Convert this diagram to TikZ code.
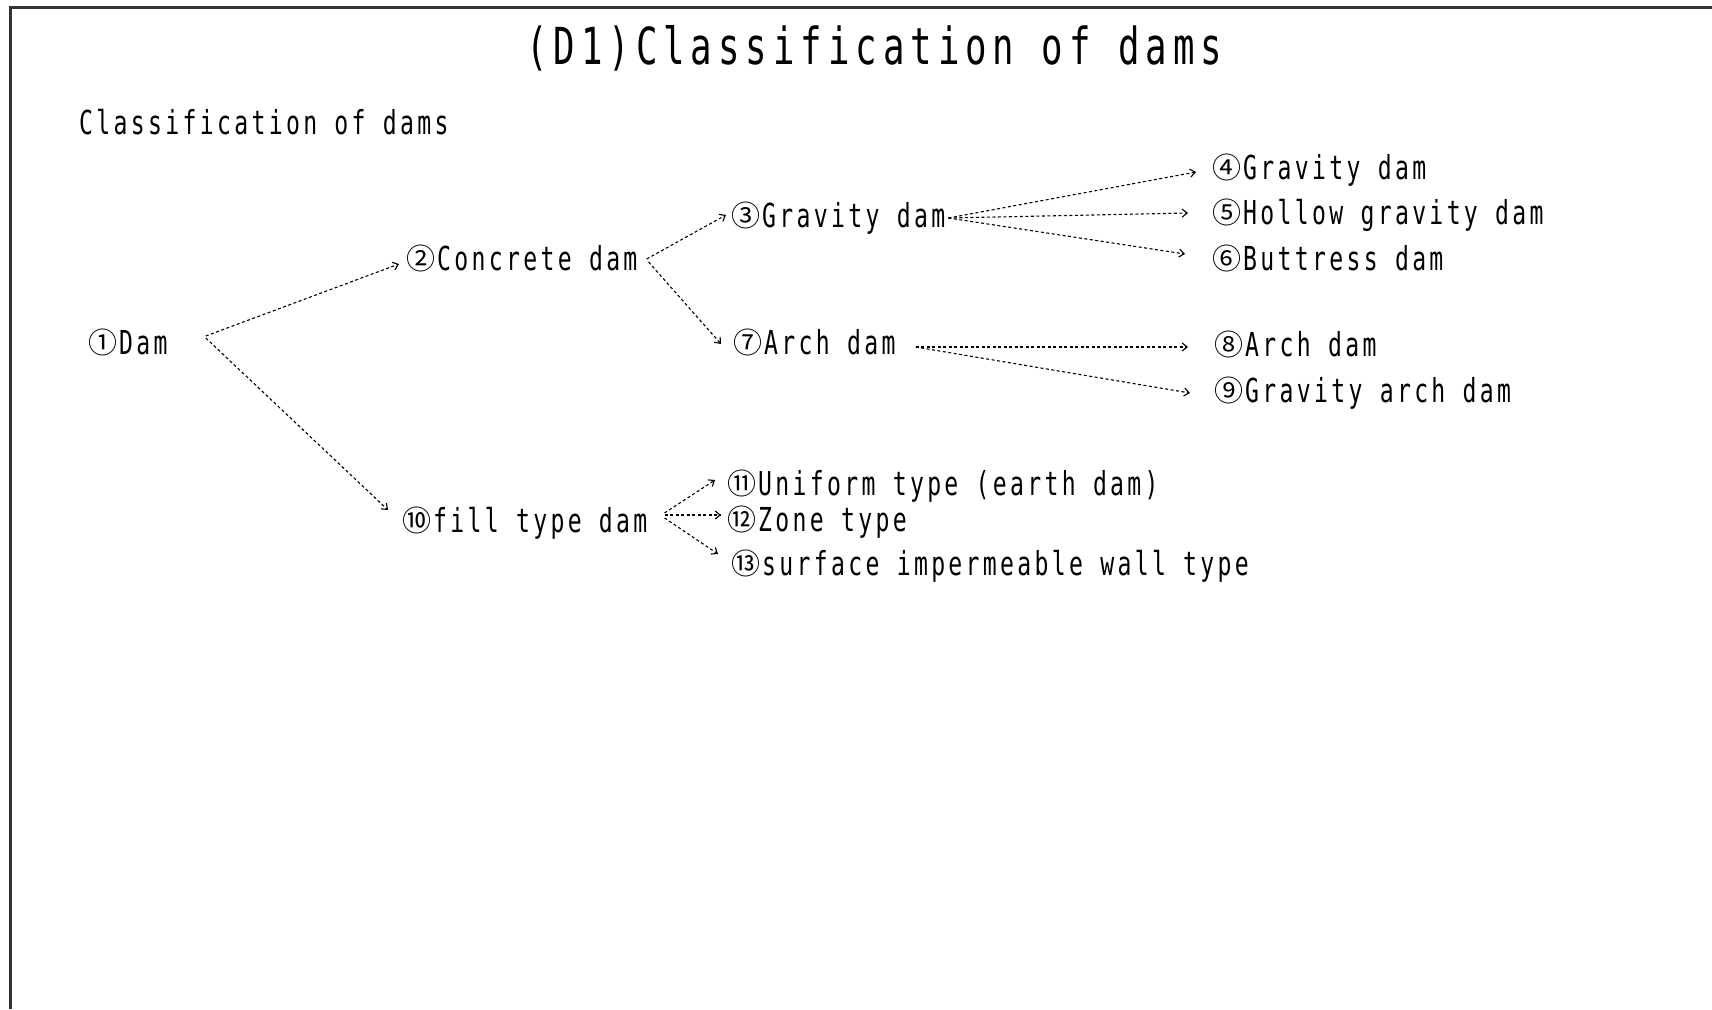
\documentclass[tikz,border=0pt]{standalone}
\usepackage{fontspec}
\usetikzlibrary{arrows.meta}
\newfontfamily\itemfont[FakeStretch=0.7,LetterSpace=10.1]{DejaVu Sans Mono}
\newfontfamily\titlefont[FakeStretch=0.7,LetterSpace=11.7]{DejaVu Sans Mono}
\newfontfamily\cjkfont{Noto Sans CJK JP}
\newcommand{\cnum}[1]{\makebox[33pt][c]{\raisebox{0.5pt}{\cjkfont\fontsize{29}{29}\selectfont #1}}}
\tikzset{
  item/.style={anchor=west,inner sep=0pt,text height=24pt,text depth=0pt,font={\itemfont\fontsize{33}{36}\selectfont}},
  titlenode/.style={anchor=west,inner sep=0pt,text height=37pt,text depth=0pt,font={\titlefont\fontsize{51}{56}\selectfont}},
  link/.style={draw=black,line width=1.1pt,dash pattern=on 3pt off 2.5pt,-{Straight Barb[length=5pt,width=8pt]}},
  frameline/.style={draw=black!80,line width=3pt}
}
\begin{document}
\begin{tikzpicture}[x=1pt,y=-1pt]
\useasboundingbox (0,0) rectangle (1712,1009);
\draw[frameline] (10,1009) -- (10,7) -- (1712,7);
\node[titlenode] (title) at (526,46) {(D1)Classification of dams};
\node[item] (sub) at (79,122) {Classification of dams};
\node[item] (n1) at (86,342) {\cnum{①}Dam};
\node[item] (n2) at (404,258) {\cnum{②}Concrete dam};
\node[item] (n3) at (729,215) {\cnum{③}Gravity dam};
\node[item] (n4) at (1210,167) {\cnum{④}Gravity dam};
\node[item] (n5) at (1210,212) {\cnum{⑤}Hollow gravity dam};
\node[item] (n6) at (1210,258) {\cnum{⑥}Buttress dam};
\node[item] (n7) at (731,342) {\cnum{⑦}Arch dam};
\node[item] (n8) at (1212,344) {\cnum{⑧}Arch dam};
\node[item] (n9) at (1212,390) {\cnum{⑨}Gravity arch dam};
\node[item] (n10) at (400,520) {\cnum{⑩}fill type dam};
\node[item] (n11) at (725,483) {\cnum{⑪}Uniform type (earth dam)};
\node[item] (n12) at (725,519) {\cnum{⑫}Zone type};
\node[item] (n13) at (729,563) {\cnum{⑬}surface impermeable wall type};
\draw[link] ([xshift=38pt,yshift=6pt]n1.east) -- ([xshift=-5pt,yshift=-6pt]n2.west);
\draw[link] ([xshift=38pt,yshift=4pt]n1.east) -- ([xshift=-12pt,yshift=10pt]n10.west);
\draw[link] ([xshift=9pt,yshift=-1pt]n2.east) -- ([xshift=-3pt]n3.west);
\draw[link] ([xshift=11pt,yshift=-4pt]n2.east) -- ([xshift=-10pt,yshift=-2pt]n7.west);
\draw[link] ([xshift=3pt,yshift=-3pt]n3.east) -- ([xshift=-14pt,yshift=-5pt]n4.west);
\draw[link] ([xshift=3pt,yshift=-3pt]n3.east) -- ([xshift=-22pt,yshift=-1pt]n5.west);
\draw[link] ([xshift=3pt,yshift=-3pt]n3.east) -- ([xshift=-25pt,yshift=4pt]n6.west);
\draw[link] ([xshift=20pt,yshift=-5pt]n7.east) -- ([xshift=-24pt,yshift=-3pt]n8.west);
\draw[link] ([xshift=20pt,yshift=-5pt]n7.east) -- ([xshift=-22pt,yshift=-3pt]n9.west);
\draw[link] ([xshift=17pt,yshift=7pt]n10.east) -- ([xshift=-10pt,yshift=3pt]n11.west);
\draw[link] ([xshift=17pt,yshift=5pt]n10.east) -- ([xshift=-4pt,yshift=4pt]n12.west);
\draw[link] ([xshift=17pt,yshift=2pt]n10.east) -- ([xshift=-11pt,yshift=9pt]n13.west);
\end{tikzpicture}
\end{document}
